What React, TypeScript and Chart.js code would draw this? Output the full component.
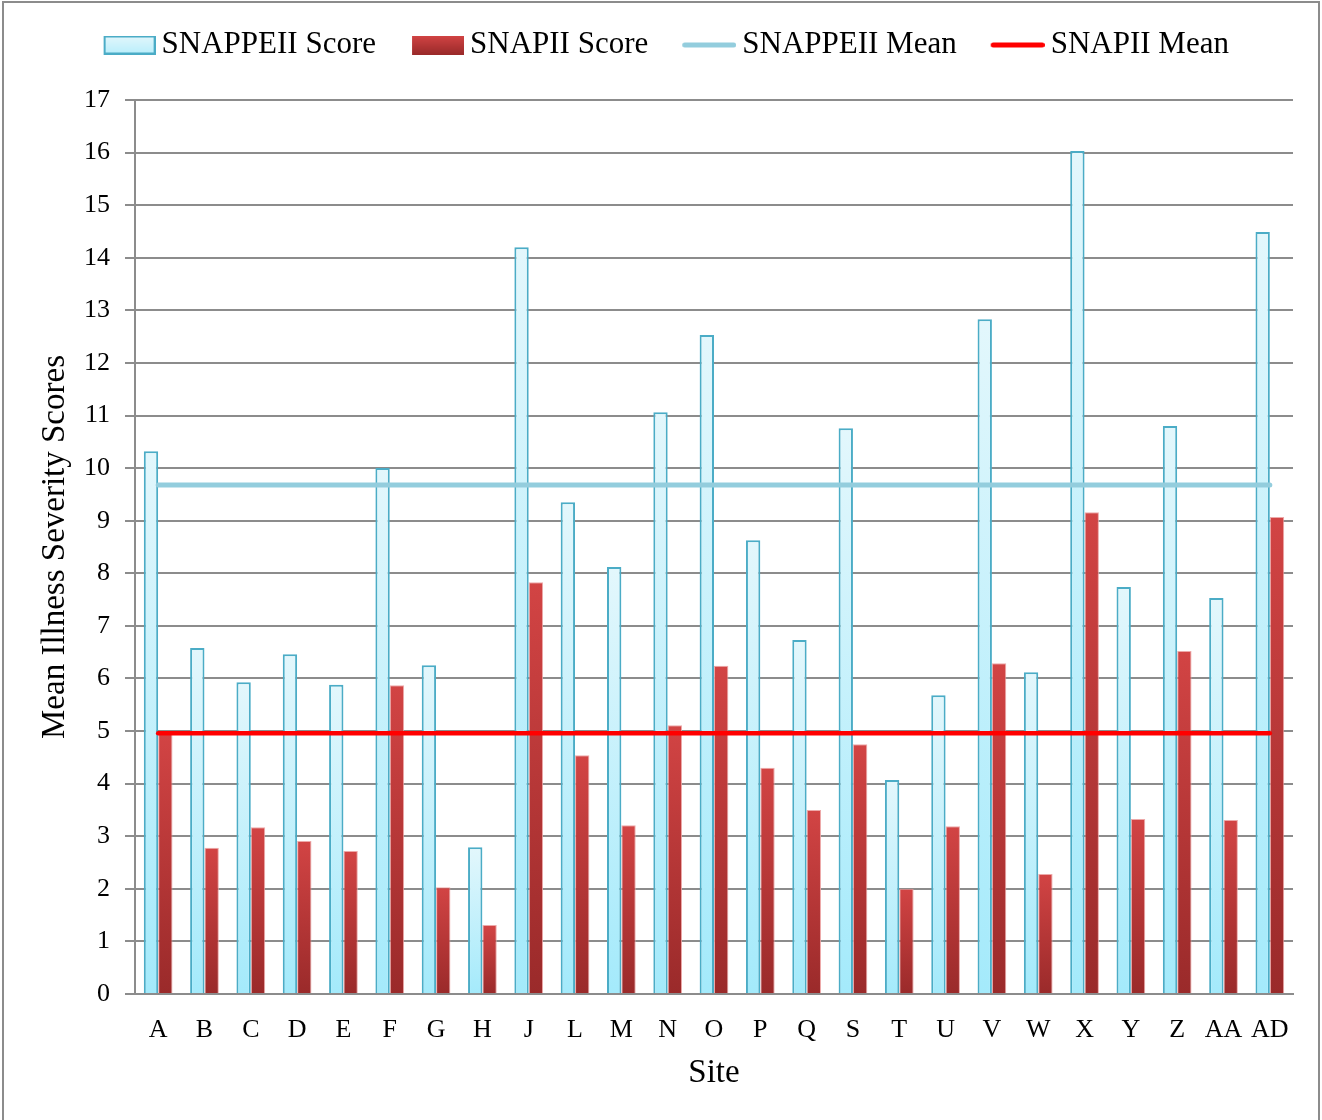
import { useEffect, useRef } from "react";
import { Chart, registerables } from "chart.js";

Chart.register(...registerables);

const sites = ["A", "B", "C", "D", "E", "F", "G", "H", "J", "L", "M", "N", "O", "P", "Q", "S", "T", "U", "V", "W", "X", "Y", "Z", "AA", "AD"];
const snappeiiScore = [10.32, 6.58, 5.93, 6.46, 5.88, 10.0, 6.25, 2.79, 14.2, 9.35, 8.12, 11.06, 12.53, 8.63, 6.73, 10.76, 4.07, 5.68, 12.83, 6.12, 16.03, 7.74, 10.8, 7.53, 14.49];
const snapiiScore = [4.96, 2.78, 3.17, 2.91, 2.72, 5.87, 2.03, 1.31, 7.83, 4.54, 3.21, 5.11, 6.24, 4.3, 3.5, 4.75, 2.0, 3.19, 6.29, 2.28, 9.16, 3.33, 6.52, 3.31, 9.07];
const snappeiiMean = 9.68;
const snapiiMean = 4.96;
const yMin = 0;
const yMax = 17;
const yStep = 1;

const FONT = "'Liberation Serif', 'Times New Roman', serif";
const CYAN_TOP = "#e3f7fc";
const CYAN_BOTTOM = "#a4eafb";
const CYAN_BORDER = "#4bacc6";
const RED_TOP = "#d24444";
const RED_BOTTOM = "#9a2a2a";
const RED_BORDER = "rgba(235,160,160,0.9)";
const CYAN_LINE = "#93cddd";
const RED_LINE = "#ff0000";
const GRID = "#8c8c8c";

function barGradient(top: string, bottom: string, fallback: string) {
  return (c: any) => {
    const chart = c.chart;
    const y = chart.scales && chart.scales.y;
    if (c.type !== "data" || !y || !chart.chartArea) return fallback;
    const t = y.getPixelForValue(c.raw);
    const b = y.getPixelForValue(0);
    if (!isFinite(t) || !isFinite(b) || Math.abs(t - b) < 1) return fallback;
    const g = chart.ctx.createLinearGradient(0, t, 0, b);
    g.addColorStop(0, top);
    g.addColorStop(1, bottom);
    return g;
  };
}

function makeBoxImage(totalW: number, w: number, h: number, top: string, bottom: string, border: string, bw: number) {
  const cv = document.createElement("canvas");
  cv.width = totalW;
  cv.height = h;
  const ctx = cv.getContext("2d")!;
  const x0 = totalW - w;
  const g = ctx.createLinearGradient(0, 0, 0, h);
  g.addColorStop(0, top);
  g.addColorStop(1, bottom);
  ctx.fillStyle = g;
  ctx.fillRect(x0, 0, w, h);
  if (bw > 0) {
    ctx.strokeStyle = border;
    ctx.lineWidth = bw;
    ctx.strokeRect(x0 + bw / 2, bw / 2, w - bw, h - bw);
  }
  return cv;
}

function makeLineImage(totalW: number, w: number, h: number, color: string, lw: number) {
  const cv = document.createElement("canvas");
  cv.width = totalW;
  cv.height = h;
  const ctx = cv.getContext("2d")!;
  const x0 = totalW - w;
  ctx.strokeStyle = color;
  ctx.lineWidth = lw;
  ctx.lineCap = "round";
  ctx.beginPath();
  ctx.moveTo(x0 + lw / 2, h / 2);
  ctx.lineTo(x0 + w - lw / 2, h / 2);
  ctx.stroke();
  return cv;
}

export default function App() {
  const ref = useRef<HTMLCanvasElement | null>(null);

  useEffect(() => {
    if (!ref.current) return;
    const imgW = 79;
    const cyanBox = makeBoxImage(imgW, 52, 19, CYAN_TOP, "#b8eefb", CYAN_BORDER, 2);
    const redBox = makeBoxImage(imgW, 52, 19, RED_TOP, RED_BOTTOM, RED_BORDER, 0);
    const cyanLine = makeLineImage(imgW, 54, 8, CYAN_LINE, 5);
    const redLine = makeLineImage(imgW, 54, 8, RED_LINE, 5);

    const legendSpacer = {
      id: "legendSpacer",
      beforeInit(chart: any) {
        const legend = chart.legend;
        if (!legend || legend._spaced) return;
        const orig = legend.fit;
        legend.fit = function () {
          orig.call(this);
          this.height += 29.5;
        };
        legend._spaced = true;
      },
    };

    const chart = new Chart(ref.current, {
      type: "bar",
      data: {
        labels: sites,
        datasets: [
          {
            type: "bar",
            label: "SNAPPEII Score",
            data: snappeiiScore,
            backgroundColor: barGradient(CYAN_TOP, CYAN_BOTTOM, "#c6f0fb"),
            borderColor: CYAN_BORDER,
            borderWidth: 2,
            categoryPercentage: 0.62,
            barPercentage: 1.0,
            order: 2,
          },
          {
            type: "bar",
            label: "SNAPII Score",
            data: snapiiScore,
            backgroundColor: barGradient(RED_TOP, RED_BOTTOM, "#b83535"),
            borderColor: RED_BORDER,
            borderWidth: 1,
            categoryPercentage: 0.62,
            barPercentage: 1.0,
            order: 2,
          },
          {
            type: "line",
            label: "SNAPPEII Mean",
            data: sites.map(() => snappeiiMean),
            borderColor: CYAN_LINE,
            backgroundColor: CYAN_LINE,
            borderWidth: 5,
            pointRadius: 0,
            borderCapStyle: "round",
            fill: false,
            order: 1,
          },
          {
            type: "line",
            label: "SNAPII Mean",
            data: sites.map(() => snapiiMean),
            borderColor: RED_LINE,
            backgroundColor: RED_LINE,
            borderWidth: 4.5,
            pointRadius: 0,
            borderCapStyle: "round",
            fill: false,
            order: 0,
          },
        ] as any,
      },
      options: {
        responsive: false,
        animation: false,
        devicePixelRatio: 1,
        layout: { padding: { top: 11, right: 29, left: 22, bottom: 0 } },
        plugins: {
          tooltip: { enabled: false },
          legend: {
            position: "top",
            labels: {
              usePointStyle: true,
              pointStyleWidth: 60,
              boxHeight: 19,
              padding: 18.5,
              color: "#000",
              font: { family: FONT, size: 31 },
              generateLabels: () => [
                { text: "SNAPPEII Score", pointStyle: cyanBox, fillStyle: "#c6f0fb", strokeStyle: CYAN_BORDER, lineWidth: 0, hidden: false, datasetIndex: 0, fontColor: "#000" },
                { text: "SNAPII Score", pointStyle: redBox, fillStyle: "#b83535", strokeStyle: RED_BORDER, lineWidth: 0, hidden: false, datasetIndex: 1, fontColor: "#000" },
                { text: "SNAPPEII Mean", pointStyle: cyanLine, fillStyle: CYAN_LINE, strokeStyle: CYAN_LINE, lineWidth: 0, hidden: false, datasetIndex: 2, fontColor: "#000" },
                { text: "SNAPII Mean", pointStyle: redLine, fillStyle: RED_LINE, strokeStyle: RED_LINE, lineWidth: 0, hidden: false, datasetIndex: 3, fontColor: "#000" },
              ] as any,
            },
          },
        },
        scales: {
          x: {
            grid: { display: false, drawTicks: false },
            border: { display: true, color: GRID, width: 2 },
            ticks: { color: "#000", font: { family: FONT, size: 26 }, padding: 21, autoSkip: false, maxRotation: 0 },
            title: { display: true, text: "Site", color: "#000", font: { family: FONT, size: 33 }, padding: { top: 0, bottom: 27 } },
            afterFit: (s: any) => {
              s.height = 126;
            },
          },
          y: {
            min: yMin,
            max: yMax,
            ticks: { stepSize: yStep, color: "#000", font: { family: FONT, size: 26 }, padding: 15 },
            grid: { color: GRID, lineWidth: 2, tickLength: 10, drawTicks: true },
            border: { display: true, color: GRID, width: 2 },
            title: { display: true, text: "Mean Illness Severity Scores", color: "#000", font: { family: FONT, size: 33 }, padding: { top: 14, bottom: 0 } },
            afterFit: (s: any) => {
              s.width = 113;
            },
          },
        },
      } as any,
      plugins: [legendSpacer as any],
    });
    return () => chart.destroy();
  }, []);

  return (
    <div style={{ position: "absolute", left: 0, top: 0, width: 1322, height: 1120, background: "#fff", overflow: "hidden" }}>
      <canvas ref={ref} width={1322} height={1120} style={{ position: "absolute", left: 0, top: 0, width: 1322, height: 1120 }} />
      <div
        style={{
          position: "absolute",
          left: 2,
          top: 1,
          width: 1318,
          height: 1119,
          border: "2px solid #8c8c8c",
          borderBottom: "none",
          boxSizing: "border-box",
          pointerEvents: "none",
        }}
      />
    </div>
  );
}
